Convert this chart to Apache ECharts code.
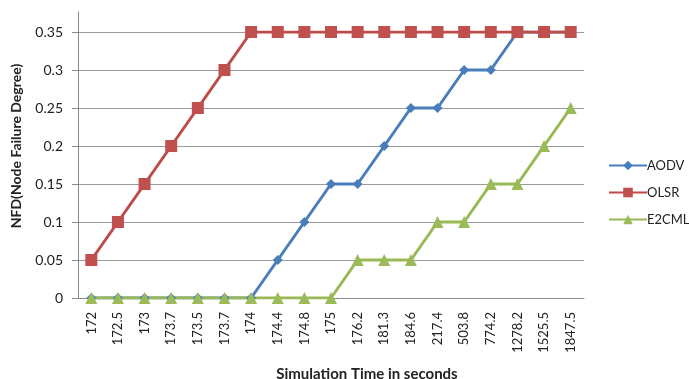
<!DOCTYPE html>
<html>
<head>
<meta charset="utf-8">
<script src="https://cdn.jsdelivr.net/npm/echarts@6/dist/echarts.min.js"></script>
<style>
  html, body { margin: 0; padding: 0; background: #fff; }
  #chart { width: 689px; height: 379px; }
</style>
</head>
<body>
<div id="chart"></div>
<script>
// Simulation time samples (seconds)
const times = ['172', '172.5', '173', '173.7', '173.5', '173.7', '174', '174.4', '174.8', '175',
               '176.2', '181.3', '184.6', '217.4', '503.8', '774.2', '1278.2', '1525.5', '1847.5'];

// Node failure degree per protocol
const aodv  = [0, 0, 0, 0, 0, 0, 0, 0.05, 0.1, 0.15, 0.15, 0.2, 0.25, 0.25, 0.3, 0.3, 0.35, 0.35, 0.35];
const olsr  = [0.05, 0.1, 0.15, 0.2, 0.25, 0.3, 0.35, 0.35, 0.35, 0.35, 0.35, 0.35, 0.35, 0.35, 0.35, 0.35, 0.35, 0.35, 0.35];
const e2cml = [0, 0, 0, 0, 0, 0, 0, 0, 0, 0, 0.05, 0.05, 0.05, 0.1, 0.1, 0.15, 0.15, 0.2, 0.25];

const yTicks = [0, 0.05, 0.1, 0.15, 0.2, 0.25, 0.3, 0.35];

const FONT = 'Lato, "Open Sans", sans-serif';
const GRID = { left: 78, right: 105, bottom: 81 };

const chart = echarts.init(document.getElementById('chart'), null, { renderer: 'canvas' });

chart.setOption({
  animation: false,
  backgroundColor: '#ffffff',
  textStyle: { fontFamily: FONT },
  title: {
    text: 'Simulation Time in seconds',
    left: 362, top: 362, textAlign: 'center',
    textStyle: { fontFamily: FONT, fontSize: 15, fontWeight: 'bold', color: '#222' }
  },
  graphic: [{
    type: 'text',
    x: 16, y: 146,
    rotation: Math.PI / 2,
    style: {
      text: 'NFD(Node Failure Degree)',
      font: 'bold 14px ' + FONT,
      fill: '#222',
      align: 'center',
      verticalAlign: 'middle'
    }
  }],
  legend: {
    orient: 'vertical',
    left: 603, top: 154,
    itemWidth: 38, itemHeight: 12, itemGap: 14,
    textStyle: { fontFamily: FONT, fontSize: 13, color: '#222', padding: [0, 0, 0, -5] },
    data: ['AODV', 'OLSR', 'E2CML']
  },
  grid: [
    { left: GRID.left, right: GRID.right, top: 32, bottom: GRID.bottom },
    // plot frame that reaches above the top tick
    { left: GRID.left, right: GRID.right, top: 12, bottom: GRID.bottom }
  ],
  xAxis: [{
    type: 'category',
    gridIndex: 0,
    data: times,
    boundaryGap: true,
    axisLine: { lineStyle: { color: '#8a8a8a', width: 1 } },
    axisTick: { show: false },
    axisLabel: {
      rotate: 90, interval: 0, margin: 14,
      fontFamily: FONT, fontSize: 13, color: '#222'
    }
  }, {
    type: 'category', gridIndex: 1, data: times, show: false
  }],
  yAxis: [{
    type: 'value',
    gridIndex: 0,
    min: yTicks[0], max: yTicks[yTicks.length - 1], interval: 0.05,
    axisLine: { show: false },
    axisTick: { show: true, length: 6, lineStyle: { color: '#8a8a8a' } },
    axisLabel: { margin: 15, fontFamily: FONT, fontSize: 14, color: '#222' },
    splitLine: { lineStyle: { color: '#9a9a9a', width: 1 } }
  }, {
    type: 'value',
    gridIndex: 1,
    min: 0, max: 1,
    axisLine: { show: true, lineStyle: { color: '#8a8a8a', width: 1 } },
    axisTick: { show: false },
    axisLabel: { show: false },
    splitLine: { show: false }
  }],
  series: [{
    name: 'AODV', type: 'line', data: aodv,
    symbol: 'diamond', symbolSize: 10,
    itemStyle: { color: '#4a7ebb' },
    lineStyle: { color: '#4a7ebb', width: 3 }
  }, {
    name: 'OLSR', type: 'line', data: olsr,
    symbol: 'rect', symbolSize: 12,
    itemStyle: { color: '#c0504d' },
    lineStyle: { color: '#be4b48', width: 3 }
  }, {
    name: 'E2CML', type: 'line', data: e2cml,
    symbol: 'triangle', symbolSize: 12,
    itemStyle: { color: '#9bbb59' },
    lineStyle: { color: '#98b954', width: 3 }
  }]
});
</script>
</body>
</html>
